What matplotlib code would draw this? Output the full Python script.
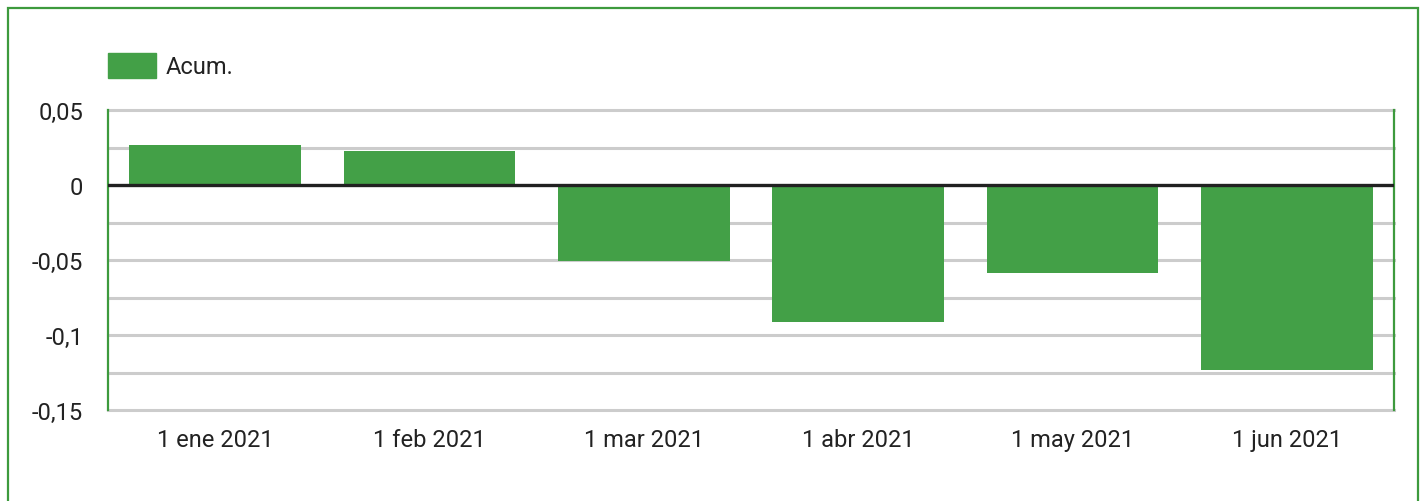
import numpy as np
import matplotlib.pyplot as plt
from matplotlib.patches import Rectangle

plt.rcParams['font.family'] = ['Roboto', 'DejaVu Sans']

# datos
meses = ['1 ene 2021', '1 feb 2021', '1 mar 2021', '1 abr 2021', '1 may 2021', '1 jun 2021']
acum = [0.0267, 0.0227, -0.0507, -0.0913, -0.0587, -0.1233]
yticks = [0.05, 0, -0.05, -0.1, -0.15]
ytick_labels = ['0,05', '0', '-0,05', '-0,1', '-0,15']

verde = '#43a047'
borde = '#3d9a3d'
texto = '#222222'

W, H = 1422, 502
fig = plt.figure(figsize=(W / 100, H / 100), dpi=100)
fig.patch.set_facecolor('white')

# marco exterior verde
fig.patches.append(Rectangle((7.5 / W, -0.05), (1418 - 7.5) / W, 1.05 - 8.5 / H,
                             transform=fig.transFigure, fill=False,
                             edgecolor=borde, linewidth=1.6))

ax = fig.add_axes([108 / W, 1 - 411 / H, (1394 - 108) / W, 300 / H])
x = np.arange(len(meses))
ax.bar(x, acum, width=0.8, color=verde, zorder=3, label='Acum.')

ax.set_xlim(-0.5, len(meses) - 0.5)
ax.set_ylim(-0.15, 0.05)

# rejilla
for g in np.arange(-0.15, 0.0501, 0.025):
    if abs(g) > 1e-9:
        ax.axhline(g, color='#cccccc', linewidth=2.2, zorder=2.6, clip_on=False)
ax.axhline(0, color='#212121', linewidth=2.4, zorder=4)

ax.set_yticks(yticks)
ax.set_yticklabels(ytick_labels)
ax.set_xticks(x)
ax.set_xticklabels(meses)
ax.tick_params(axis='both', length=0, labelsize=17, labelcolor=texto)
ax.tick_params(axis='y', pad=18)
ax.tick_params(axis='x', pad=13)

for s in ['left', 'right']:
    ax.spines[s].set_color(borde)
    ax.spines[s].set_linewidth(1.6)
    ax.spines[s].set_zorder(2.7)
for s in ['top', 'bottom']:
    ax.spines[s].set_color('#8cc68c')
    ax.spines[s].set_linewidth(1.0)

# leyenda
fig.patches.append(Rectangle((108 / W, 1 - 79 / H), 48 / W, 25 / H,
                             transform=fig.transFigure, color=verde))
fig.text(166 / W, 1 - 67 / H, 'Acum.', fontsize=17, color=texto, va='center')

plt.savefig('out.png', dpi=100)
